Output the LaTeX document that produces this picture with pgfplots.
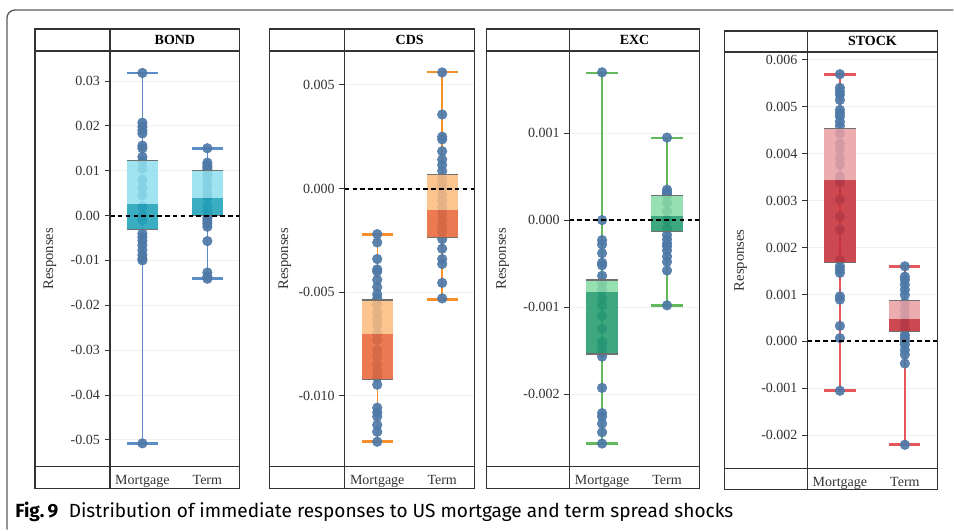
\documentclass[border=0pt]{standalone}
\usepackage{pgfplots}
\pgfplotsset{compat=1.18}
\usepackage{fontspec}
\setmainfont{Liberation Serif}
\newfontfamily\capfont{Fira Sans}

\definecolor{framec}{HTML}{333333}
\definecolor{outerc}{HTML}{5A5A5A}
\definecolor{txt}{HTML}{333333}
\definecolor{dotblue}{HTML}{4E79A7}
\definecolor{gridc}{HTML}{F0F0F0}
\definecolor{boxedge}{HTML}{707070}
% whisker / box colours per market
\definecolor{bondW}{HTML}{5B8DC9}
\definecolor{bondL}{HTML}{8FE0EE}
\definecolor{bondD}{HTML}{1FA2B8}
\definecolor{cdsW}{HTML}{F58F2A}
\definecolor{cdsL}{HTML}{FCBB7E}
\definecolor{cdsD}{HTML}{E8673A}
\definecolor{excW}{HTML}{62B85A}
\definecolor{excL}{HTML}{86DBA4}
\definecolor{excD}{HTML}{239B6E}
\definecolor{stkW}{HTML}{E5575D}
\definecolor{stkL}{HTML}{E9A0A4}
\definecolor{stkD}{HTML}{C5303A}

% whisker: #1 left, #2 centre, #3 right, #4 lower, #5 upper, #6 colour
\newcommand{\whisk}[6]{%
  \addplot[#6, line width=1.1pt] coordinates {(#2,#4) (#2,#5)};
  \addplot[#6, line width=2pt] coordinates {(#1,#4) (#3,#4)};
  \addplot[#6, line width=2pt] coordinates {(#1,#5) (#3,#5)};
}
% two-tone box: #1 left, #2 right, #3 q1, #4 median, #5 q3, #6 light, #7 dark
\newcommand{\qbox}[7]{%
  \addplot[fill=#6, fill opacity=0.86, draw=none] coordinates {(#1,#4) (#2,#4) (#2,#5) (#1,#5)} -- cycle;
  \addplot[fill=#7, fill opacity=0.88, draw=none] coordinates {(#1,#3) (#2,#3) (#2,#4) (#1,#4)} -- cycle;
  \addplot[boxedge, line width=1pt] coordinates {(#1,#5) (#2,#5)};
  \addplot[boxedge, line width=1pt] coordinates {(#1,#3) (#2,#3)};
}
\newcommand{\zeroline}{%
  \addplot[black, line width=1.5pt, dash pattern=on 3.5pt off 2.4pt] coordinates {(0.5,0) (2.5,0)};
}

\pgfplotsset{
  panel/.style={
    scale only axis, width=97.5pt, height=312pt, anchor=north west,
    xmin=0.5, xmax=2.5, xtick={1,2}, xticklabels={Mortgage,Term},
    axis line style={draw=none},
    ytick pos=left, xtick pos=bottom,
    tick align=outside, major tick length=4pt,
    x tick style={draw=none},
    y tick style={framec, line width=0.6pt},
    ymajorgrids, grid style={gridc, line width=0.6pt},
    scaled y ticks=false,
    tick label style={font=\fontsize{10.5}{12}\selectfont, text=txt},
    xticklabel style={anchor=base, yshift=-9.5pt},
    ylabel={Responses},
    every axis title/.style={at={(axis description cs:0.5,1)}, anchor=center, yshift=8.25pt,
      font=\fontsize{10.5}{12}\selectfont\bfseries, text=black},
    clip=false, clip marker paths=true,
  },
  ylab/.style={every axis y label/.style={at={(axis description cs:#1,0.5)},
      rotate=90, anchor=center, font=\fontsize{11}{12}\selectfont, text=txt}},
  dots/.style={only marks, mark=*, mark size=3.6pt, color=dotblue,
      mark options={fill opacity=0.92, draw opacity=0.92}},
}

\begin{document}
\begin{tikzpicture}[x=0.75pt, y=0.75pt]
\path (0,0) rectangle (954,530);
% top-left corners of the four plotting areas
\coordinate (pBond) at (110,479);
\coordinate (pCds) at (345,479);
\coordinate (pExc) at (570,479);
\coordinate (pStock) at (808,478);

% ---------------- BOND ----------------
\begin{axis}[panel, ylab=-0.4615, at={(pBond)}, title={BOND},
  ymin=-0.056, ymax=0.0367,
  ytick={-0.05,-0.04,-0.03,-0.02,-0.01,0,0.01,0.02,0.03},
  yticklabels={-0.05,-0.04,-0.03,-0.02,-0.01,0.00,0.01,0.02,0.03}]
\whisk{0.76}{1}{1.24}{-0.0508}{0.0318}{bondW}
\whisk{1.76}{2}{2.24}{-0.0141}{0.0150}{bondW}
\addplot[dots] coordinates {
 (1,0.0318) (1,0.0207) (1,0.0198) (1,0.0190) (1,0.0183) (1,0.0156) (1,0.0150)
 (1,0.0131) (1,0.0122) (1,0.0105) (1,0.0080) (1,0.0062) (1,0.0045) (1,0.0020)
 (1,0.0000) (1,-0.0010) (1,-0.0040) (1,-0.0048) (1,-0.0056) (1,-0.0066)
 (1,-0.0077) (1,-0.0088) (1,-0.0096) (1,-0.0100) (1,-0.0508)};
\addplot[dots] coordinates {
 (2,0.0150) (2,0.0118) (2,0.0112) (2,0.0107) (2,0.0102) (2,0.0098) (2,0.0090)
 (2,0.0075) (2,0.0065) (2,0.0050) (2,0.0040) (2,0.0020) (2,0.0010) (2,0.0000)
 (2,-0.0006) (2,-0.0012) (2,-0.0018) (2,-0.0025) (2,-0.0057) (2,-0.0127)
 (2,-0.0136) (2,-0.0141)};
\qbox{0.76}{1.24}{-0.0031}{0.0026}{0.0122}{bondL}{bondD}
\qbox{1.76}{2.24}{0.0000}{0.0038}{0.0100}{bondL}{bondD}
\zeroline
\end{axis}

% ---------------- CDS ----------------
\begin{axis}[panel, ylab=-0.4615, at={(pCds)}, title={CDS},
  ymin=-0.013413, ymax=0.006635,
  ytick={-0.010,-0.005,0,0.005},
  yticklabels={-0.010,-0.005,0.000,0.005}]
\whisk{0.76}{1}{1.24}{-0.01221}{-0.00223}{cdsW}
\whisk{1.76}{2}{2.24}{-0.00534}{0.005625}{cdsW}
\addplot[dots] coordinates {
 (1,-0.0022) (1,-0.0026) (1,-0.0034) (1,-0.0039) (1,-0.0040) (1,-0.0044)
 (1,-0.00475) (1,-0.0051) (1,-0.0053) (1,-0.0056) (1,-0.0060) (1,-0.0063)
 (1,-0.0066) (1,-0.0070) (1,-0.0073) (1,-0.0078) (1,-0.0081) (1,-0.0085)
 (1,-0.0088) (1,-0.0091) (1,-0.00946) (1,-0.01057) (1,-0.0108) (1,-0.0110)
 (1,-0.0114) (1,-0.01173) (1,-0.01221)};
\addplot[dots] coordinates {
 (2,0.0056) (2,0.00357) (2,0.0025) (2,0.00237) (2,0.0018) (2,0.0014)
 (2,0.00114) (2,0.00085) (2,0.0005) (2,0.0002) (2,0.0000) (2,-0.0003)
 (2,-0.0006) (2,-0.0009) (2,-0.0012) (2,-0.0015) (2,-0.0018) (2,-0.0021)
 (2,-0.00244) (2,-0.0029) (2,-0.0034) (2,-0.00364) (2,-0.00455) (2,-0.0053)};
\qbox{0.76}{1.24}{-0.00922}{-0.00702}{-0.00537}{cdsL}{cdsD}
\qbox{1.76}{2.24}{-0.00236}{-0.00103}{0.00067}{cdsL}{cdsD}
\zeroline
\end{axis}

% ---------------- EXC ----------------
\begin{axis}[panel, ylab=-0.515, at={(pExc)}, title={EXC},
  ymin=-0.002836, ymax=0.001946,
  ytick={-0.002,-0.001,0,0.001},
  yticklabels={-0.002,-0.001,0.000,0.001}]
\whisk{0.76}{1}{1.24}{-0.00257}{0.001693}{excW}
\whisk{1.76}{2}{2.24}{-0.000985}{0.000946}{excW}
\addplot[dots] coordinates {
 (1,0.0017) (1,0.0000) (1,-0.00023) (1,-0.00028) (1,-0.00038) (1,-0.00049)
 (1,-0.00052) (1,-0.00064) (1,-0.00072) (1,-0.00080) (1,-0.00090) (1,-0.00098)
 (1,-0.00110) (1,-0.00125) (1,-0.00140) (1,-0.00145) (1,-0.00152) (1,-0.00157)
 (1,-0.00193) (1,-0.00222) (1,-0.00226) (1,-0.00234) (1,-0.00244) (1,-0.00257)};
\addplot[dots] coordinates {
 (2,0.00095) (2,0.00035) (2,0.00032) (2,0.00030) (2,0.00028) (2,0.00020)
 (2,0.00010) (2,0.00000) (2,-0.00010) (2,-0.00017) (2,-0.00022) (2,-0.00027)
 (2,-0.00030) (2,-0.00035) (2,-0.00042) (2,-0.00048) (2,-0.00058) (2,-0.00098)};
\qbox{0.76}{1.24}{-0.00154}{-0.00083}{-0.00069}{excL}{excD}
\qbox{1.76}{2.24}{-0.000134}{0.00005}{0.000287}{excL}{excD}
\zeroline
\end{axis}

% ---------------- STOCK ----------------
\begin{axis}[panel, ylab=-0.515, at={(pStock)}, height=312.75pt, title={STOCK},
  ymin=-0.002709, ymax=0.006164,
  ytick={-0.002,-0.001,0,0.001,0.002,0.003,0.004,0.005,0.006},
  yticklabels={-0.002,-0.001,0.000,0.001,0.002,0.003,0.004,0.005,0.006}]
\whisk{0.76}{1}{1.24}{-0.00105}{0.00569}{stkW}
\whisk{1.76}{2}{2.24}{-0.0022}{0.0016}{stkW}
\addplot[dots] coordinates {
 (1,0.00569) (1,0.00540) (1,0.00532) (1,0.00525) (1,0.00514) (1,0.00493)
 (1,0.00486) (1,0.00479) (1,0.00468) (1,0.00459) (1,0.00443) (1,0.00422)
 (1,0.00408) (1,0.00390) (1,0.00376) (1,0.00351) (1,0.00339) (1,0.00302)
 (1,0.00266) (1,0.00238) (1,0.00174) (1,0.00160) (1,0.00153) (1,0.00146)
 (1,0.00096) (1,0.00089) (1,0.00033) (1,0.00007) (1,-0.00105)};
\addplot[dots] coordinates {
 (2,0.00160) (2,0.00138) (2,0.00131) (2,0.00121) (2,0.00110) (2,0.00099)
 (2,0.00082) (2,0.00067) (2,0.00053) (2,0.00040) (2,0.00025) (2,0.00014)
 (2,0.00007) (2,0.00000) (2,-0.00007) (2,-0.00018) (2,-0.00028) (2,-0.00047)
 (2,-0.00220)};
\qbox{0.76}{1.24}{0.00168}{0.00344}{0.00454}{stkL}{stkD}
\qbox{1.76}{2.24}{0.00021}{0.00048}{0.00087}{stkL}{stkD}
\zeroline
\end{axis}

% panel frames: outer box, label column, header row, footer row
\begin{scope}[shift={(0,530)}, y=-0.75pt, framec, line width=0.9pt]
  \foreach \L/\D/\R/\T/\H/\F/\B in {35/110/240/29/51/467/489, 270/345/475/29/51/467/489,
      487/570/700/29/51/467/489, 725/808/938/31/52/469/490} {
    \draw (\L,\T) rectangle (\R,\B);
    \draw (\D,\T) -- (\D,\B);
    \draw (\L,\H) -- (\R,\H);
    \draw (\L,\F) -- (\R,\F);
  }
  % surrounding figure box
  \draw[outerc, line width=1pt, rounded corners=6pt] (7,530) -- (7,10) -- (954,10);
\end{scope}

% caption
\node[anchor=base west, inner sep=0pt] at (15,12.3)
  {\capfont\fontsize{14.3}{16}\selectfont\textbf{Fig.\,9}\hspace{0.55em}Distribution of immediate responses to US mortgage and term spread shocks};
\end{tikzpicture}
\end{document}
